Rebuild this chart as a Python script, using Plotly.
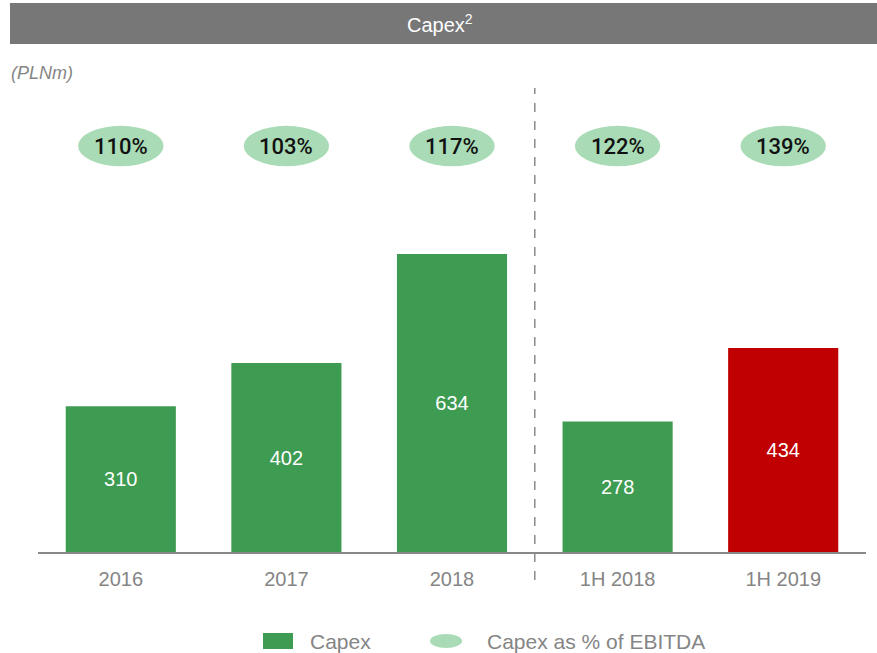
import plotly.graph_objects as go

categories = ["2016", "2017", "2018", "1H 2018", "1H 2019"]
capex = [310, 402, 634, 278, 434]
pct_ebitda = [110, 103, 117, 122, 139]
bar_colors = ["#3E9B52", "#3E9B52", "#3E9B52", "#3E9B52", "#C00000"]
legend_labels = ["Capex", "Capex as % of EBITDA"]

GREEN = "#3E9B52"
LIGHT = "#A9DCB6"
GRAY_TXT = "#858585"
FONT = "Liberation Sans, Arial, sans-serif"

YMAX = 962
ELL_Y = 864
L, R, T, B = 38, 11, 100, 101
PW, PH = 877 - L - R, 653 - T - B


def px(xp):
    return (xp - L) / PW


def py(yp):
    return (653 - B - yp) / PH


fig = go.Figure()
fig.add_trace(go.Bar(
    x=list(range(len(categories))), y=capex, name="Capex",
    marker=dict(color=bar_colors, line=dict(width=0)),
    width=0.665,
    text=[str(v) for v in capex], textposition="inside", insidetextanchor="middle",
    textfont=dict(color="white", size=20, family=FONT),
    showlegend=False, hoverinfo="skip",
))

shapes = []
annotations = []
for i, p in enumerate(pct_ebitda):
    shapes.append(dict(type="circle", xref="x", yref="y", x0=i - 0.258, x1=i + 0.258,
                       y0=ELL_Y - 43, y1=ELL_Y + 43, fillcolor=LIGHT, line=dict(width=0), layer="below"))
    annotations.append(dict(x=i, y=ELL_Y, xref="x", yref="y", text=f"{p}%", showarrow=False,
                            font=dict(size=22, color="#111111", family="Roboto, " + FONT, weight=500)))

# title bar
shapes.append(dict(type="rect", xref="paper", yref="paper",
                   x0=px(10), x1=px(877), y0=py(44), y1=py(3),
                   fillcolor="#777777", line=dict(width=0)))
annotations.append(dict(xref="paper", yref="paper", x=px(440), y=py(24),
                        yanchor="middle", text="Capex<sup>2</sup>", showarrow=False,
                        font=dict(size=20, color="white", family=FONT)))
annotations.append(dict(xref="paper", yref="paper", x=px(9), y=py(73),
                        xanchor="left", yanchor="middle", text="<i>(PLNm)</i>", showarrow=False,
                        font=dict(size=18, color=GRAY_TXT, family=FONT)))
# dashed separator
shapes.append(dict(type="line", xref="x", yref="paper", x0=2.5, x1=2.5,
                   y0=py(580), y1=py(88),
                   line=dict(color="#8a8a8a", width=1.5, dash="dash")))

# manual legend
shapes.append(dict(type="rect", xref="paper", yref="paper", x0=px(263), x1=px(293),
                   y0=py(649), y1=py(633), fillcolor=GREEN, line=dict(width=0)))
annotations.append(dict(xref="paper", yref="paper", x=px(308), y=py(641), xanchor="left",
                        yanchor="middle", text=legend_labels[0], showarrow=False,
                        font=dict(size=21, color=GRAY_TXT, family=FONT)))
shapes.append(dict(type="circle", xref="paper", yref="paper", x0=px(430), x1=px(462),
                   y0=py(648), y1=py(634), fillcolor=LIGHT, line=dict(width=0)))
annotations.append(dict(xref="paper", yref="paper", x=px(485), y=py(641), xanchor="left",
                        yanchor="middle", text=legend_labels[1], showarrow=False,
                        font=dict(size=21, color=GRAY_TXT, family=FONT)))

fig.update_layout(
    width=877, height=653,
    margin=dict(l=L, r=R, t=T, b=B, autoexpand=False),
    paper_bgcolor="white", plot_bgcolor="white",
    showlegend=False,
    shapes=shapes, annotations=annotations,
    xaxis=dict(tickmode="array", tickvals=list(range(len(categories))), ticktext=categories,
               range=[-0.5, len(categories) - 0.5], showgrid=False, zeroline=False,
               showline=True, linecolor="#888888", linewidth=2,
               ticks="outside", ticklen=8, tickcolor="rgba(0,0,0,0)",
               tickfont=dict(size=20, color=GRAY_TXT, family=FONT)),
    yaxis=dict(range=[0, YMAX], visible=False, showgrid=False, zeroline=False),
)

fig.write_html("out.html", config={"displayModeBar": False},
               post_script="document.body.style.margin='0';document.body.style.padding='0';"
                           "document.body.style.overflow='hidden';")
